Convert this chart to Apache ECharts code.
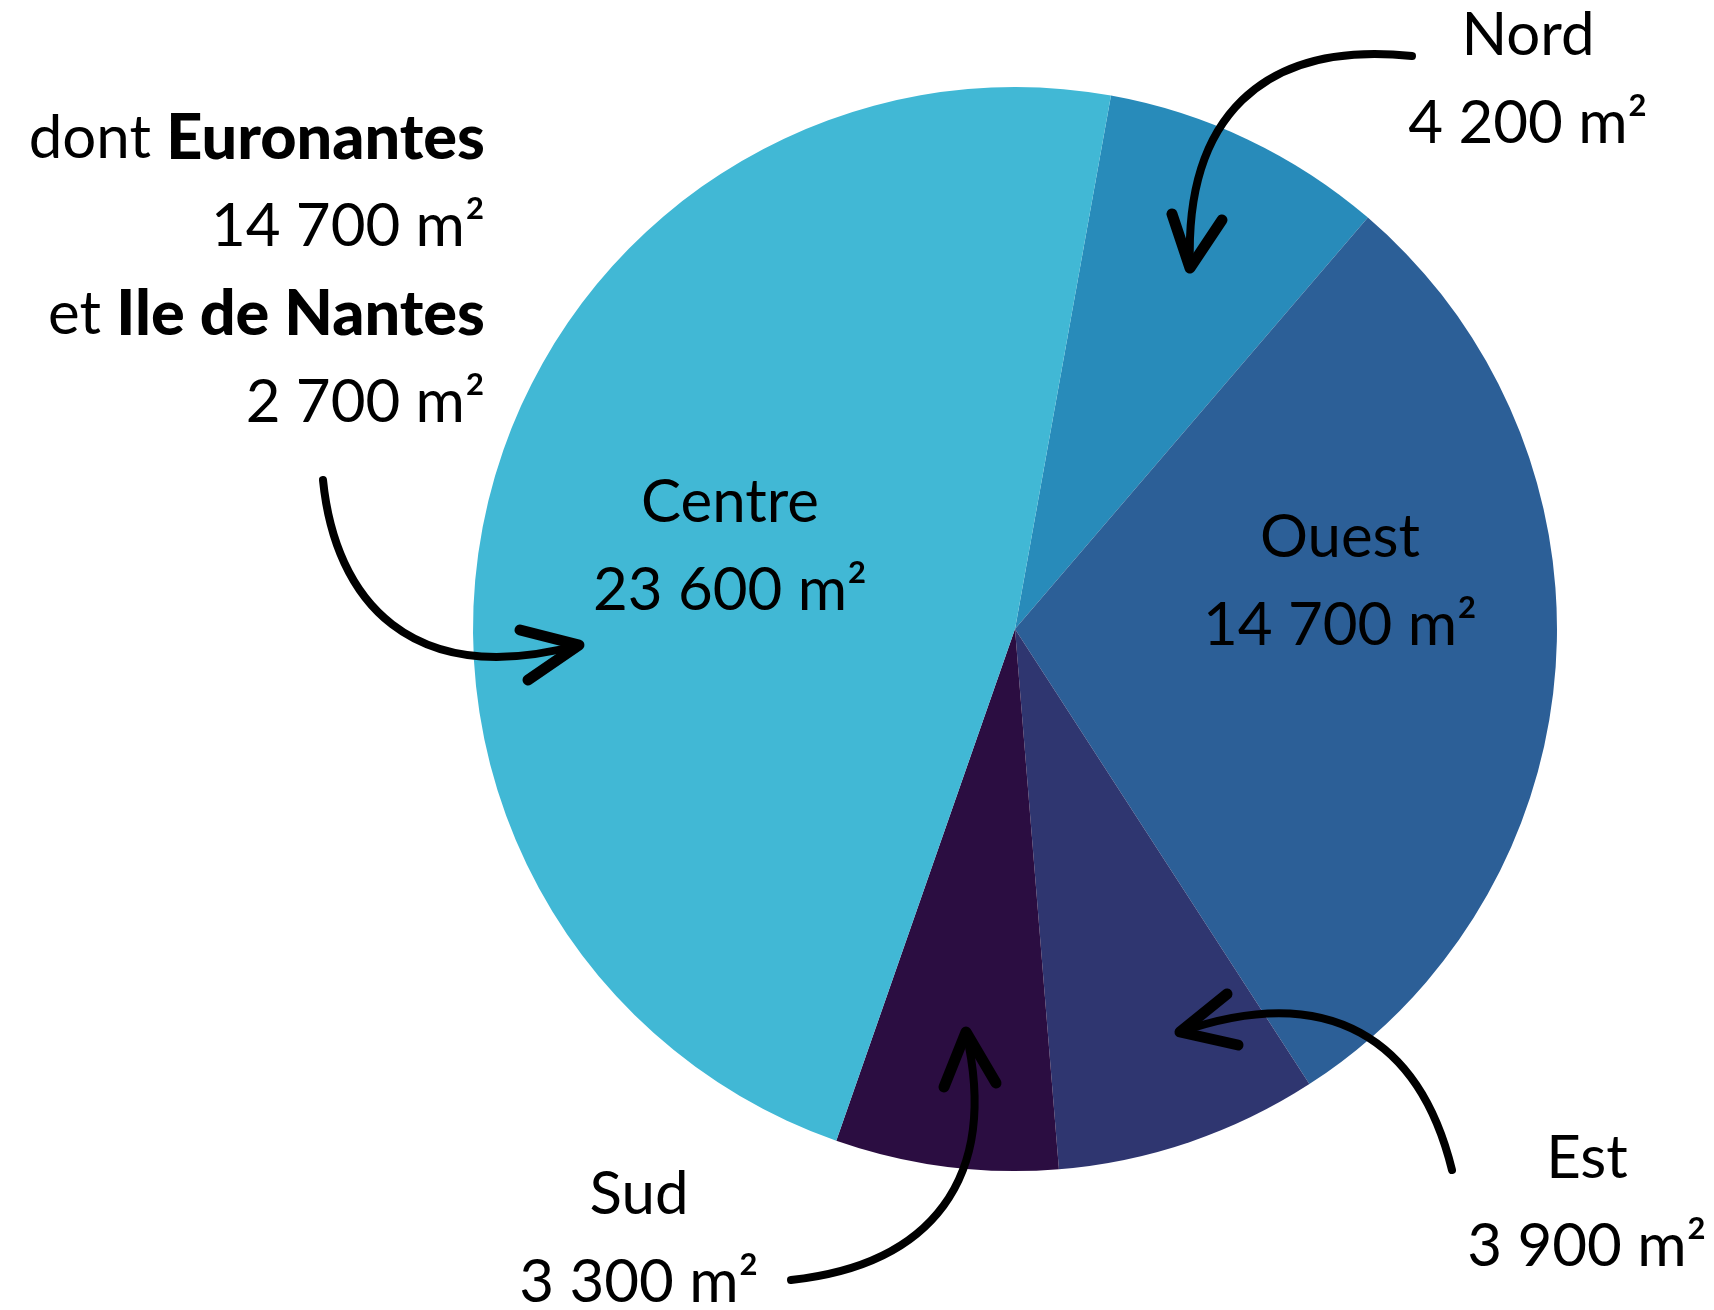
<!DOCTYPE html>
<html>
<head>
<meta charset="utf-8">
<script src="https://cdn.jsdelivr.net/npm/echarts@6/dist/echarts.min.js"></script>
<style>
html,body{margin:0;padding:0;background:#fff;}
#main{width:1714px;height:1310px;}
</style>
</head>
<body>
<div id="main"></div>
<script>
// Data
var categories = ['Nord', 'Ouest', 'Est', 'Sud', 'Centre'];
var values = [4200, 14700, 3900, 3300, 23600];
var colors = ['#288BBA', '#2C5F97', '#2F3670', '#2B0D41', '#41B8D5'];
// label block centres (pixels) per category
var labelPos = [[1528, 80], [1340, 582], [1587, 1203], [639, 1239], [730, 547]];
var noteLines = [
  ['dont ', 'Euronantes'],
  ['14 700 m²'],
  ['et ', 'Ile de Nantes'],
  ['2 700 m²']
];

var FONT = 'Lato, "Open Sans", sans-serif';
function fmt(v) {
  return String(v).replace(/\B(?=(\d{3})+(?!\d))/g, ' ');
}

var chart = echarts.init(document.getElementById('main'), null, {renderer: 'canvas'});

var noteText = noteLines.map(function (l) {
  if (l.length === 2) return '{r|' + l[0] + '}{b|' + l[1] + '}';
  return '{r|' + l[0] + '}';
}).join('\n');

function arrow(c, head) {
  return [
    {type: 'bezierCurve', shape: {x1: c[0], y1: c[1], cpx1: c[2], cpy1: c[3], cpx2: c[4], cpy2: c[5], x2: c[6], y2: c[7]},
     style: {fill: null, stroke: '#000', lineWidth: 8, lineCap: 'round'}, z: 100},
    {type: 'polyline', shape: {points: head},
     style: {fill: null, stroke: '#000', lineWidth: 11, lineCap: 'round', lineJoin: 'round'}, z: 100}
  ];
}

var graphics = [].concat(
  arrow([1412, 56, 1260, 40, 1185, 120, 1190, 265], [[1172, 214], [1190, 268], [1222, 220]]),
  arrow([323, 480, 335, 600, 410, 690, 579, 645], [[520, 630], [579, 645], [528, 680]]),
  arrow([1452, 1170, 1420, 1040, 1330, 980, 1180, 1032], [[1227, 994], [1180, 1032], [1238, 1045]]),
  arrow([791, 1280, 930, 1265, 1000, 1180, 966, 1032], [[944, 1087], [966, 1032], [996, 1083]]),
  [{
    type: 'text', x: 485, y: 95, z: 100,
    style: {
      text: noteText, align: 'right', verticalAlign: 'top',
      rich: {
        r: {fontFamily: FONT, fontSize: 60, fontWeight: 400, lineHeight: 88, fill: '#000'},
        b: {fontFamily: FONT, fontSize: 63, fontWeight: 900, lineHeight: 88, fill: '#000'}
      }
    }
  }]
);

var option = {
  backgroundColor: '#ffffff',
  animation: false,
  series: [{
    type: 'pie',
    center: [1015, 629],
    radius: 542,
    startAngle: 79.8,
    clockwise: true,
    avoidLabelOverlap: false,
    data: categories.map(function (c, i) {
      return {name: c, value: values[i], itemStyle: {color: colors[i]}};
    }),
    label: {
      show: true,
      position: 'inside',
      formatter: function (p) {
        return '{n|' + p.name + '}\n{n|' + fmt(p.value) + ' m²}';
      },
      rich: {
        n: {fontFamily: FONT, fontSize: 60, fontWeight: 400, lineHeight: 88, color: '#000', align: 'center'}
      }
    },
    labelLine: {show: false},
    labelLayout: function (p) {
      var pos = labelPos[p.dataIndex];
      return {x: pos[0], y: pos[1], align: 'center', verticalAlign: 'middle', hideOverlap: false};
    },
    emphasis: {disabled: true}
  }],
  graphic: graphics
};
chart.setOption(option);
</script>
</body>
</html>
